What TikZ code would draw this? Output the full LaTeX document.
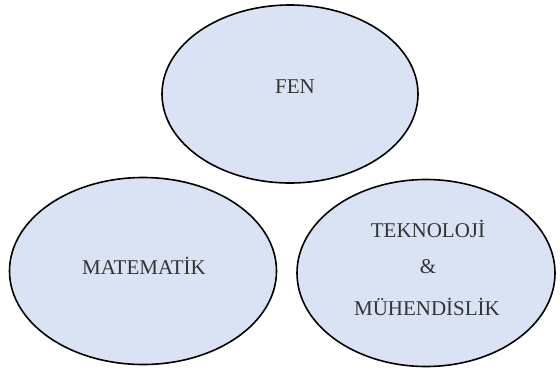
\documentclass[tikz,border=0pt]{standalone}
\usepackage{fontspec}
\setmainfont{Liberation Serif}
\usetikzlibrary{shapes.geometric}
\definecolor{bubblefill}{HTML}{DAE3F3}
\definecolor{labeltext}{HTML}{333333}
\begin{document}
\begin{tikzpicture}[x=1pt,y=-1pt,
  bubble/.style={ellipse, draw=black, line width=1.6pt, fill=bubblefill, inner sep=0pt},
  caption/.style={font=\fontsize{21}{24}\selectfont, text=labeltext, inner sep=0pt, anchor=center}]
\useasboundingbox (0,0) rectangle (560,373);
\fill[white] (0,0) rectangle (560,373);

% three subject areas
\node[bubble, minimum width=256pt, minimum height=178pt] (fen) at (290,94) {};
\node[bubble, minimum width=267pt, minimum height=187pt] (mat) at (143,271) {};
\node[bubble, minimum width=258pt, minimum height=187pt] (tek) at (426,273) {};

% labels
\node[caption] (fenlbl) at (295,87) {FEN};
\node[caption] (matlbl) at (144,266) {MATEMATİK};
\node[caption] (teklbl) at (428,229) {TEKNOLOJİ};
\node[caption] (amplbl) at (428,267) {\&};
\node[caption] (muhlbl) at (427,307) {MÜHENDİSLİK};
\end{tikzpicture}
\end{document}
